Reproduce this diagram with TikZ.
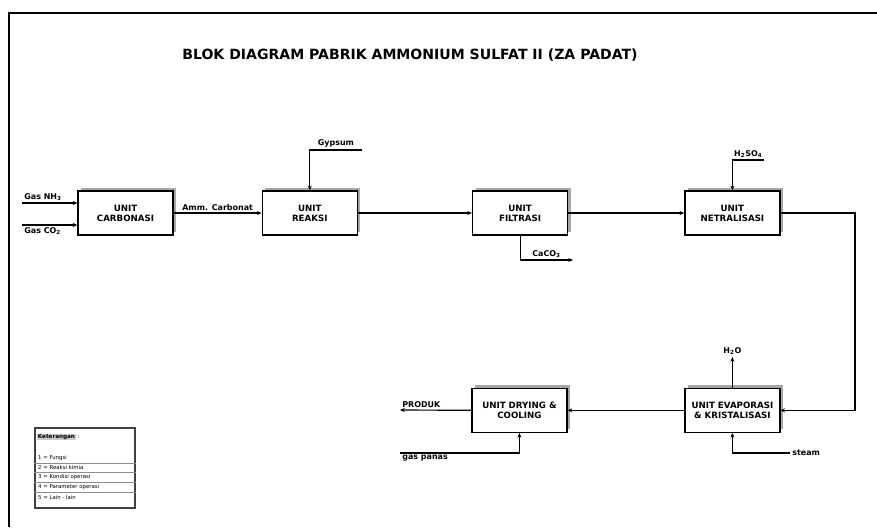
\documentclass[tikz,border=0pt]{standalone}
\usepackage{fontspec}
\setmainfont{DejaVu Sans}
\usetikzlibrary{arrows.meta,positioning,shadows}

\begin{document}
\begin{tikzpicture}[x=0.03cm, y=-0.03cm, node distance=4.56cm and 3.42cm, >={Stealth[length=4pt,width=3.4pt]},
  unit/.style={draw, line width=1.1pt, fill=white, minimum width=2.85cm, minimum height=1.32cm, align=center, inner sep=1pt,
    font=\fontsize{7.4}{8.6}\selectfont\bfseries,
    drop shadow={shadow xshift=2.5pt, shadow yshift=2.5pt, fill=black!35, opacity=1}},
  flow/.style={line width=1pt},
  lbl/.style={font=\fontsize{6.8}{8}\selectfont\bfseries, inner sep=1.5pt},
  legend/.style={font=\fontsize{4.6}{5.5}\selectfont, anchor=west, inner sep=0pt}]
  \useasboundingbox (0,0) rectangle (877,527);
  \draw[line width=2.2pt] (9,527) -- (9,13) -- (877,13);

  \node[font=\fontsize{12}{14}\selectfont\bfseries] (title) at (410,55) {BLOK DIAGRAM PABRIK AMMONIUM SULFAT II (ZA PADAT)};

  % upper row
  \node[unit] (carb) at (125.5,213) {UNIT\\CARBONASI};
  \node[unit, right=2.64cm of carb] (reaksi) {UNIT\\REAKSI};
  \node[unit, right=3.42cm of reaksi] (filtrasi) {UNIT\\FILTRASI};
  \node[unit, right=3.48cm of filtrasi] (netral) {UNIT\\NETRALISASI};
  % lower row
  \node[unit, below=of netral] (evap) {UNIT EVAPORASI\\\& KRISTALISASI};
  \node[unit, left=3.5cm of evap] (drying) {UNIT DRYING \&\\COOLING};

  \coordinate (nh3) at (22,203);
  \coordinate (co2) at (22,225);
  \coordinate (gyp) at (362,150);
  \coordinate (caco) at (573,260);
  \coordinate (asam) at (764,160);
  \coordinate (balik) at (855,300);
  \coordinate (uap) at (730,357);
  \coordinate (steam) at (790,453);
  \coordinate (produk) at (400,410);
  \coordinate (panas) at (400,453);

  \draw[->, flow] (nh3) -- node[pos=0, above right, lbl]{Gas NH\textsubscript{3}} (carb.west |- nh3);
  \draw[->, flow] (co2) -- node[pos=0, below right, lbl]{Gas CO\textsubscript{2}} (carb.west |- co2);
  \draw[->, flow] (carb) -- node[above, lbl]{Amm. Carbonat} (reaksi);
  \draw[->, flow] (gyp) -- node[above, lbl]{Gypsum} (gyp -| reaksi) -- (reaksi.north);
  \draw[->, flow] (reaksi) -- (filtrasi);
  \draw[->, flow] (filtrasi.south) |- node[pos=0.75, above, lbl]{CaCO\textsubscript{3}} (caco);
  \draw[->, flow] (filtrasi) -- (netral);
  \draw[->, flow] (asam) -- node[above, lbl]{H\textsubscript{2}SO\textsubscript{4}} (asam -| netral) -- (netral.north);
  \draw[->, flow] (netral.east) -| (balik) |- (evap.east);
  \draw[->, flow] (evap.north) -- (evap.north |- uap) node[above, lbl]{H\textsubscript{2}O};
  \draw[->, flow] (steam) node[right, lbl]{steam} -- (steam -| evap) -- (evap.south);
  \draw[->, flow] (evap) -- (drying);
  \draw[->, flow] (drying.west) -- (produk) node[above right, lbl]{PRODUK};
  \draw[->, flow] (panas) node[below right, lbl]{gas panas} -- (panas -| drying) -- (drying.south);

  % keterangan
  \node[draw=black!75, line width=1.4pt, minimum width=3cm, minimum height=2.4cm] (ket) at (85,468) {};
  \node[legend, fill=black!20, inner sep=0.6pt, font=\fontsize{4.8}{5.5}\selectfont\bfseries] (ketjudul) at (37,437) {Keterangan};
  \node[legend, right=1pt of ketjudul] (ketdot) {:};
  \foreach \i/\t in {1/Fungsi, 2/Reaksi kimia, 3/Kondisi operasi, 4/Parameter operasi, 5/Lain - lain} {
    \node[legend] (ket\i) at (38,448+9.8*\i) {\i{} = \t};
  }
  \foreach \i in {1,...,4}
    \draw[black!45, line width=0.3pt] (ket.west |- 0,453+9.8*\i) -- (ket.east |- 0,453+9.8*\i);
\end{tikzpicture}
\end{document}
